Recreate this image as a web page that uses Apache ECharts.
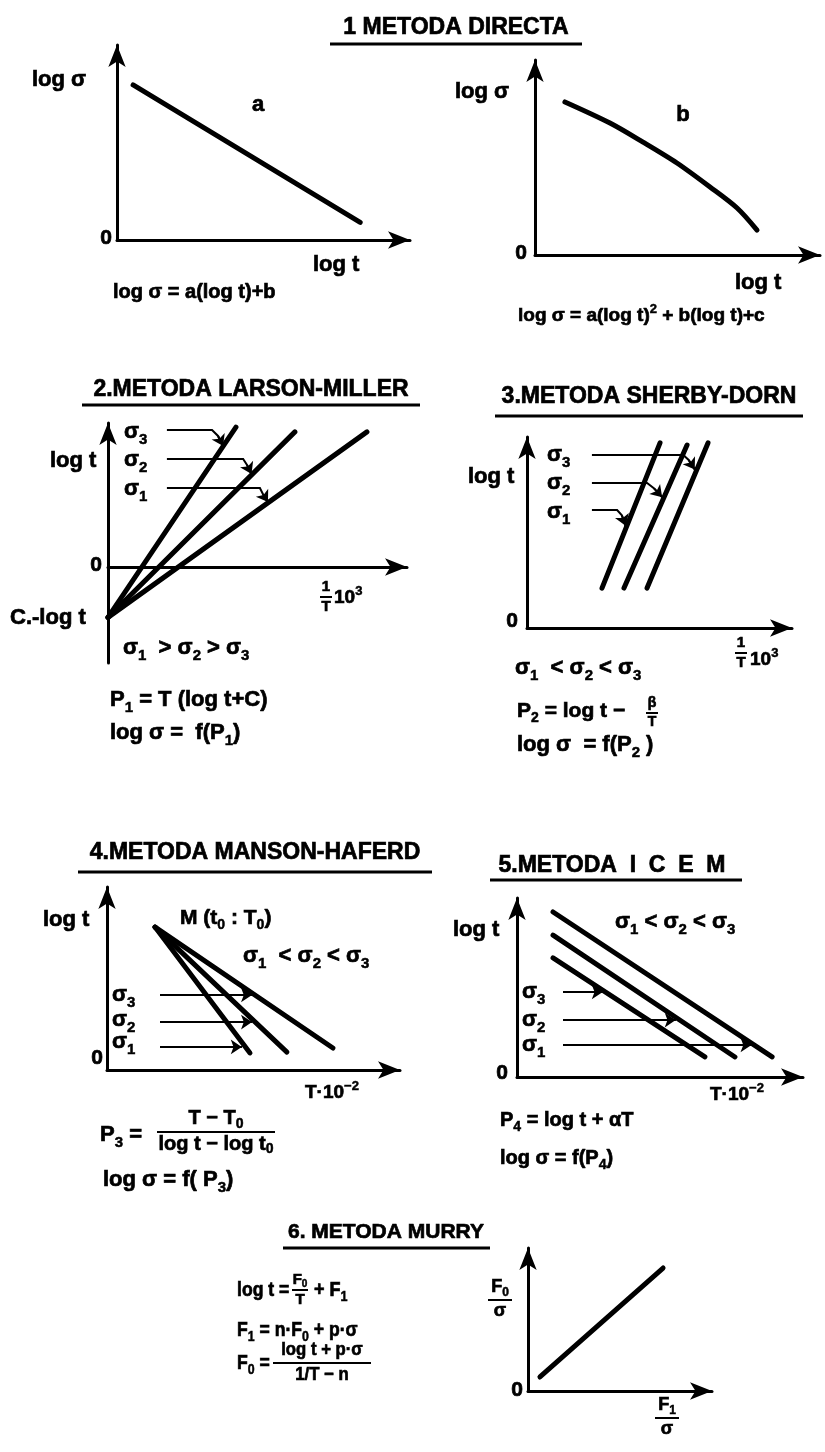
<!DOCTYPE html>
<html><head><meta charset="utf-8">
<script src="https://cdn.jsdelivr.net/npm/echarts@6/dist/echarts.min.js"></script>
<style>html,body{margin:0;padding:0;background:#fff}#c{width:825px;height:1452px}</style>
</head><body><div id="c"></div>
<script>
// ---- 1a: direct method, log σ linear in log t
const directLinX = [0.55, 8.3];
const directLinY = [7.95, 0.9];
// ---- 1b: direct method, log σ quadratic in log t
const directQuadX = [1.05, 2.63, 3.79, 4.98, 6.14, 7.09, 7.79];
const directQuadY = [7.85, 6.77, 5.79, 4.72, 3.49, 2.41, 1.28];
// ---- 2: Larson-Miller, iso-stress lines through the pole (C - log t)
const lmLinesX = [[0, 4.28], [0, 6.25], [0, 8.66]];      // σ3, σ2, σ1
const lmLinesY = [[-2.1, 5.83], [-2.1, 5.63], [-2.1, 5.63]];
const lmLeaderX = [[1.97, 3.48, 3.68, 3.85], [1.97, 4.52, 4.65, 4.8], [1.97, 5.08, 5.18, 5.35]];
const lmLeaderY = [[5.71, 5.71, 5.46, 5.04], [4.5, 4.5, 4.25, 3.88], [3.29, 3.29, 3.04, 2.71]];
// ---- 3: Sherby-Dorn, parallel iso-stress lines
const sdLinesX = [[2.83, 5.02], [3.66, 6.04], [4.53, 6.83]];  // σ1, σ2, σ3
const sdLinesY = [[2.09, 9.69], [2.09, 9.58], [2.09, 9.69]];
const sdLeaderX = [[2.45, 5.9, 6.1, 6.33], [2.45, 4.53, 4.8, 5.1], [2.45, 3.4, 3.58, 3.72]];
const sdLeaderY = [[9.06, 9.06, 8.8, 8.3], [7.59, 7.59, 7.3, 6.85], [6.18, 6.18, 5.9, 5.35]];
// ---- 4: Manson-Haferd, lines converging at M(t0 : T0)
const mhLinesX = [[1.64, 4.88], [1.64, 6.14], [1.64, 7.71]];
const mhLinesY = [[7.81, 0.93], [7.81, 0.98], [7.81, 1.2]];
const mhLeaderX = [[1.81, 4.95], [1.81, 4.95], [1.81, 4.6]];
const mhLeaderY = [[4.1, 4.1], [2.62, 2.62], [1.26, 1.26]];
// ---- 5: ICEM, parallel descending lines
const icLinesX = [[1.26, 8.92], [1.26, 7.62], [1.26, 6.57]];
const icLinesY = [[9.22, 1.12], [7.93, 1.12], [6.65, 1.12]];
const icLeaderX = [[1.61, 3.0], [1.61, 5.55], [1.61, 8.2]];
const icLeaderY = [[4.75, 4.75], [3.18, 3.18], [1.79, 1.79]];
// ---- 6: Murry, F0/σ against F1/σ
const murryX = [0.65, 7.34];
const murryY = [0.98, 8.6];

// panel frames (pixels) and axis ranges
const panels = [
  {box: {left: 117, top: 45, width: 293, height: 195}, y: [0, 10]},
  {box: {left: 535, top: 60, width: 285, height: 195}, y: [0, 10]},
  {box: {left: 108, top: 423, width: 299, height: 240}, y: [-4, 6]},
  {box: {left: 527, top: 437, width: 265, height: 191}, y: [0, 10]},
  {box: {left: 107, top: 887, width: 293, height: 183}, y: [0, 10]},
  {box: {left: 517, top: 898, width: 286, height: 179}, y: [0, 10]},
  {box: {left: 528, top: 1248, width: 184, height: 143}, y: [0, 10]}
];

const FONT = '"Liberation Sans", "DejaVu Sans", sans-serif';
const INK = 0.7;   // extra stroke that thickens the bold lettering
const zip = (xs, ys) => xs.map((x, i) => [x, ys[i]]);

const axisCommon = {
  type: 'value',
  axisLine: {show: true, onZero: true, symbol: ['none', 'arrow'], symbolSize: [13, 22],
             lineStyle: {color: '#000', width: 3}},
  axisTick: {show: false}, axisLabel: {show: false}, splitLine: {show: false}
};

const grid = panels.map(p => Object.assign({}, p.box));
const xAxis = panels.map((p, i) => Object.assign({}, axisCommon, {gridIndex: i, min: 0, max: 10}));
const yAxis = panels.map((p, i) => Object.assign({}, axisCommon, {gridIndex: i, min: p.y[0], max: p.y[1]}));

const series = [];
function curve(idx, xs, ys, smooth) {
  series.push({type: 'line', xAxisIndex: idx, yAxisIndex: idx, data: zip(xs, ys),
    symbol: 'none', smooth: smooth || false, silent: true,
    lineStyle: {color: '#000', width: 5, cap: 'round'}});
}
// leader lines: the path itself, plus its last segment carrying the arrowhead
function leaders(idx, xs, ys) {
  const base = {type: 'lines', coordinateSystem: 'cartesian2d', xAxisIndex: idx, yAxisIndex: idx,
    silent: true, lineStyle: {color: '#000', width: 2, opacity: 1}};
  series.push(Object.assign({}, base, {polyline: true, symbol: 'none',
    data: xs.map((x, i) => ({coords: zip(x, ys[i])}))}));
  series.push(Object.assign({}, base, {polyline: false, symbol: ['none', 'arrow'], symbolSize: 11,
    data: xs.map((x, i) => {
      const n = x.length;
      return {coords: [[x[n - 2], ys[i][n - 2]], [x[n - 1], ys[i][n - 1]]]};
    })}));
}
curve(0, directLinX, directLinY);
curve(1, directQuadX, directQuadY, 0.3);
lmLinesX.forEach((x, i) => curve(2, x, lmLinesY[i]));
leaders(2, lmLeaderX, lmLeaderY);
sdLinesX.forEach((x, i) => curve(3, x, sdLinesY[i]));
leaders(3, sdLeaderX, sdLeaderY);
mhLinesX.forEach((x, i) => curve(4, x, mhLinesY[i]));
leaders(4, mhLeaderX, mhLeaderY);
icLinesX.forEach((x, i) => curve(5, x, icLinesY[i]));
leaders(5, icLeaderX, icLeaderY);
curve(6, murryX, murryY);

// ---- text and decorations
const graphic = [];
function richFor(size) {
  const small = Math.round(size * 0.68);
  const tok = {fontSize: small, fontWeight: 'bold', fontFamily: FONT, fill: '#000',
               stroke: '#000', lineWidth: INK * 0.7, lineHeight: small};
  return {
    s: Object.assign({}, tok, {verticalAlign: 'bottom'}),
    p: Object.assign({}, tok, {verticalAlign: 'top'})
  };
}
function textStyle(text, size, align, vAlign, lh) {
  return {text: text, fontSize: size, fontWeight: 'bold', fontFamily: FONT, fill: '#000',
          stroke: '#000', lineWidth: INK, lineHeight: lh, rich: richFor(size),
          textAlign: align, align: align, textVerticalAlign: vAlign, verticalAlign: vAlign};
}
function txt(x, y, text, size, align, vAlign, sx) {
  size = size || 22;
  graphic.push({type: 'text', x: x, y: y, silent: true, scaleX: sx || 1,
    style: textStyle(text, size, align || 'left', vAlign || 'middle', Math.round(size * 1.4))});
}
function rule(x1, y1, x2, y2, w) {
  graphic.push({type: 'line', silent: true, shape: {x1: x1, y1: y1, x2: x2, y2: y2},
    style: {stroke: '#000', lineWidth: w || 3}});
}
function frac(cx, yBar, top, bottom, size, barW, sx) {
  graphic.push({type: 'text', x: cx, y: yBar - 1, silent: true, scaleX: sx || 1,
    style: textStyle(top, size, 'center', 'bottom', Math.round(size * 1.25))});
  graphic.push({type: 'text', x: cx, y: yBar + 1, silent: true, scaleX: sx || 1,
    style: textStyle(bottom, size, 'center', 'top', Math.round(size * 1.15))});
  rule(cx - barW / 2, yBar, cx + barW / 2, yBar, 2);
}
function title(cx, cy, text, x1, x2, yLine, size) {
  txt(cx, cy, text, size || 23, 'center');
  rule(x1, yLine, x2, yLine, 3);
}

// 1
title(456, 28, '1 METODA DIRECTA', 330, 582, 44);
txt(32, 80, 'log σ', 22);
txt(258, 105, 'a', 22, 'center');
txt(112, 238, '0', 21, 'right');
txt(313, 265, 'log t', 22);
txt(113, 292, 'log σ = a(log t)+b', 20);
txt(455, 92, 'log σ', 22);
txt(683, 115, 'b', 22, 'center');
txt(527, 253, '0', 21, 'right');
txt(735, 283, 'log t', 22);
txt(518, 316, 'log σ = a(log t){p|2} + b(log t)+c', 19);

// 2
title(251, 390, '2.METODA LARSON-MILLER', 82, 420, 405);
txt(124, 432, 'σ{s|3}', 22); txt(124, 460, 'σ{s|2}', 22); txt(124, 489, 'σ{s|1}', 22);
txt(50, 461, 'log t', 22);
txt(102, 565, '0', 21, 'right');
txt(10, 618, 'C.-log t', 22);
frac(326, 597, '1', 'T', 15, 12); txt(334, 598, '10{p|3}', 19);
txt(123, 648, 'σ{s|1}  > σ{s|2} > σ{s|3}', 22);
txt(110, 700, 'P{s|1} = T (log t+C)', 22);
txt(110, 733, 'log σ =  f(P{s|1})', 22);

// 3
title(649, 397, '3.METODA SHERBY-DORN', 495, 803, 416);
txt(547, 455, 'σ{s|3}', 22); txt(547, 483, 'σ{s|2}', 22); txt(547, 512, 'σ{s|1}', 22);
txt(468, 477, 'log t', 22);
txt(518, 621, '0', 21, 'right');
frac(741, 653, '1', 'T', 15, 12); txt(750, 660, '10{p|3}', 19);
txt(515, 668, 'σ{s|1}  < σ{s|2} < σ{s|3}', 22);
txt(517, 711, 'P{s|2} = log t −', 21);
frac(652, 713, 'β', 'T', 14, 12);
txt(517, 745, 'log σ  = f(P{s|2} )', 22);

// 4
title(255, 853, '4.METODA MANSON-HAFERD', 78, 432, 872);
txt(43, 920, 'log t', 22);
txt(180, 918, 'M (t{s|0} : T{s|0})', 21);
txt(243, 956, 'σ{s|1}  < σ{s|2} < σ{s|3}', 22);
txt(112, 995, 'σ{s|3}', 22); txt(112, 1020, 'σ{s|2}', 22); txt(112, 1042, 'σ{s|1}', 22);
txt(103, 1058, '0', 21, 'right');
txt(305, 1093, 'T·10{p|−2}', 19);
txt(100, 1135, 'P{s|3} =', 22);
frac(216, 1132, 'T − T{s|0}', 'log t − log t{s|0}', 20, 118);
txt(103, 1180, 'log σ = f( P{s|3})', 22);

// 5
title(612, 866, '5.METODA  I  C  E  M', 490, 742, 880);
txt(453, 930, 'log t', 22);
txt(615, 922, 'σ{s|1} < σ{s|2} < σ{s|3}', 22);
txt(522, 992, 'σ{s|3}', 22); txt(522, 1020, 'σ{s|2}', 22); txt(522, 1045, 'σ{s|1}', 22);
txt(508, 1073, '0', 21, 'right');
txt(710, 1095, 'T·10{p|−2}', 19);
txt(500, 1120, 'P{s|4} = log t + αT', 20);
txt(500, 1158, 'log σ = f(P{s|4})', 20);

// 6
title(386, 1232, '6. METODA MURRY', 283, 490, 1248, 21);
txt(237, 1290, 'log t =', 20, 'left', 'middle', 0.88);
frac(300, 1290, 'F{s|0}', 'T', 15, 16);
txt(314, 1290, '+ F{s|1}', 20, 'left', 'middle', 0.9);
txt(237, 1330, 'F{s|1} = n·F{s|0} + p·σ', 20, 'left', 'middle', 0.88);
txt(237, 1363, 'F{s|0} =', 20, 'left', 'middle', 0.88);
frac(322, 1363, 'log t + p·σ', '1/T − n', 19, 98, 0.88);
frac(500, 1300, 'F{s|0}', 'σ', 18, 24);
txt(523, 1390, '0', 21, 'right');
frac(667, 1418, 'F{s|1}', 'σ', 18, 24);

const chart = echarts.init(document.getElementById('c'), null, {renderer: 'canvas'});
chart.setOption({
  animation: false,
  backgroundColor: '#fff',
  grid: grid, xAxis: xAxis, yAxis: yAxis, series: series, graphic: graphic
});
</script></body></html>
